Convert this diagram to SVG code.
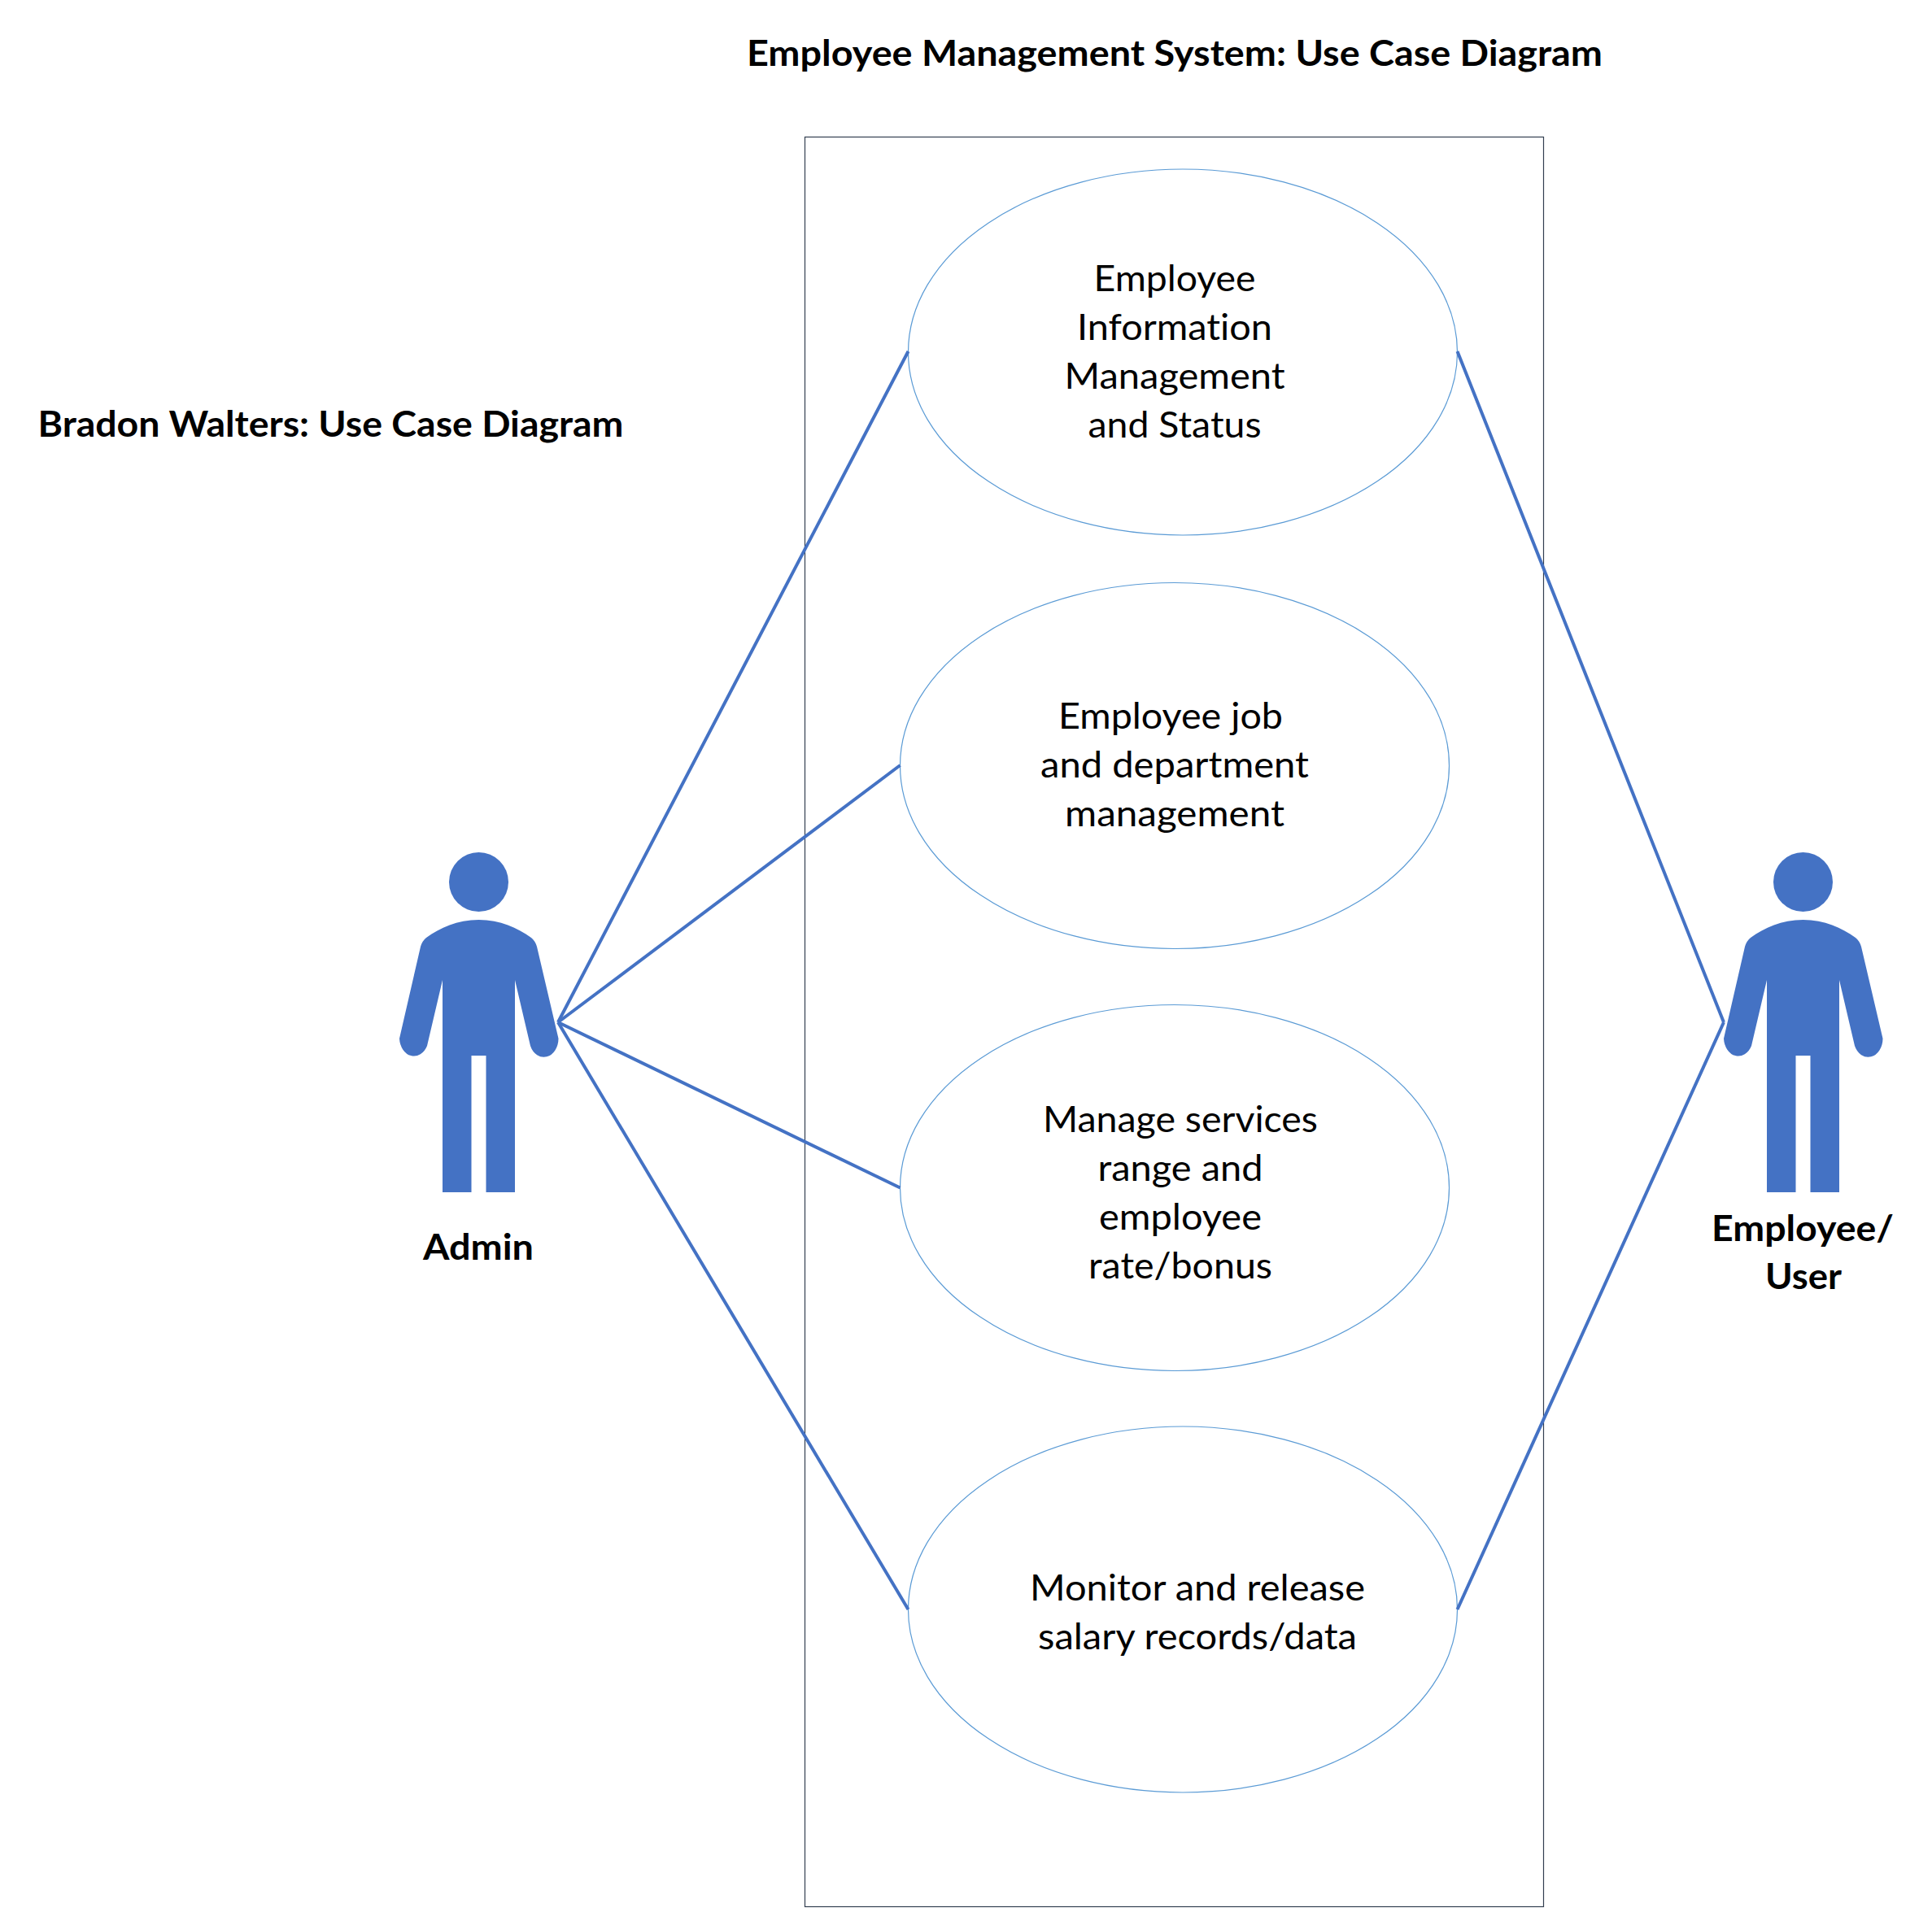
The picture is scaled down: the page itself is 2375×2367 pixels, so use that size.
<svg xmlns="http://www.w3.org/2000/svg" width="2375" height="2367" viewBox="0 0 2375 2367">
<style>
text{font-family:"Lato","Liberation Sans",sans-serif;font-size:44px;fill:#000;text-anchor:middle;font-variant-ligatures:none}
.b{font-weight:700}
.uc{fill:#fff;stroke:#5B9BD5;stroke-width:1.2}
.conn{stroke:#4472C4;stroke-width:4;fill:none}
.actor{fill:#4472C4}
</style>
<defs>
<g id="person">
<circle cx="588.5" cy="1084.500" r="36.500"/>
<path d="M588.500 1131C562 1131 541 1141 524 1153Q519 1157 517 1164L491 1277A18 23 0 0 0 525 1286L544 1205V1466H579.500V1298H597.500V1466H633V1205L652 1286A18 23 0 0 0 686.500 1277L660 1164Q658 1157 653 1153C636 1141 615 1131 588.500 1131Z"/>
</g>
</defs>
<rect id="boundary" x="989.500" y="168.500" width="908" height="2176" fill="#fff" stroke="#333F50" stroke-width="1.2"/>
<g id="title"><text class="b" x="1444" y="81" textLength="1052" lengthAdjust="spacingAndGlyphs">Employee Management System: Use Case Diagram</text></g>
<g id="subtitle"><text class="b" x="406.500" y="537" textLength="720" lengthAdjust="spacingAndGlyphs">Bradon Walters: Use Case Diagram</text></g>
<g id="uc1"><ellipse class="uc" cx="1454" cy="433" rx="337.500" ry="225"/>
<text x="1444" y="358" textLength="199" lengthAdjust="spacingAndGlyphs">Employee</text>
<text x="1444" y="418" textLength="240" lengthAdjust="spacingAndGlyphs">Information</text>
<text x="1444" y="478" textLength="271" lengthAdjust="spacingAndGlyphs">Management</text>
<text x="1444" y="538" textLength="213" lengthAdjust="spacingAndGlyphs">and Status</text></g>
<g id="uc2"><ellipse class="uc" cx="1444" cy="941.500" rx="337.500" ry="225"/>
<text x="1439" y="896" textLength="276" lengthAdjust="spacingAndGlyphs">Employee job</text>
<text x="1444" y="956" textLength="330" lengthAdjust="spacingAndGlyphs">and department</text>
<text x="1444" y="1016" textLength="270" lengthAdjust="spacingAndGlyphs">management</text></g>
<g id="uc3"><ellipse class="uc" cx="1444" cy="1460.500" rx="337.500" ry="225"/>
<text x="1451" y="1392" textLength="338" lengthAdjust="spacingAndGlyphs">Manage services</text>
<text x="1451" y="1452" textLength="203" lengthAdjust="spacingAndGlyphs">range and</text>
<text x="1451" y="1512" textLength="200" lengthAdjust="spacingAndGlyphs">employee</text>
<text x="1451" y="1572" textLength="226" lengthAdjust="spacingAndGlyphs">rate/bonus</text></g>
<g id="uc4"><ellipse class="uc" cx="1454" cy="1979" rx="337.500" ry="225"/>
<text x="1472" y="1968" textLength="412" lengthAdjust="spacingAndGlyphs">Monitor and release</text>
<text x="1472" y="2028" textLength="392" lengthAdjust="spacingAndGlyphs">salary records/data</text></g>
<g id="connectors" class="conn">
<line x1="686" y1="1257" x2="1116.500" y2="432"/>
<line x1="686" y1="1257" x2="1106.500" y2="941"/>
<line x1="686" y1="1257" x2="1106.500" y2="1460.500"/>
<line x1="686" y1="1257" x2="1116.500" y2="1979"/>
<line x1="2119" y1="1257" x2="1791.500" y2="432"/>
<line x1="2119" y1="1257" x2="1791.500" y2="1979"/>
</g>
<g id="admin" class="actor"><use href="#person"/>
<text class="b" x="588" y="1549" textLength="136" lengthAdjust="spacingAndGlyphs">Admin</text></g>
<g id="employee-user" class="actor"><use href="#person" x="1628"/>
<text class="b" x="2216" y="1526" textLength="224" lengthAdjust="spacingAndGlyphs">Employee/</text>
<text class="b" x="2217" y="1585" textLength="94" lengthAdjust="spacingAndGlyphs">User</text></g>
</svg>
